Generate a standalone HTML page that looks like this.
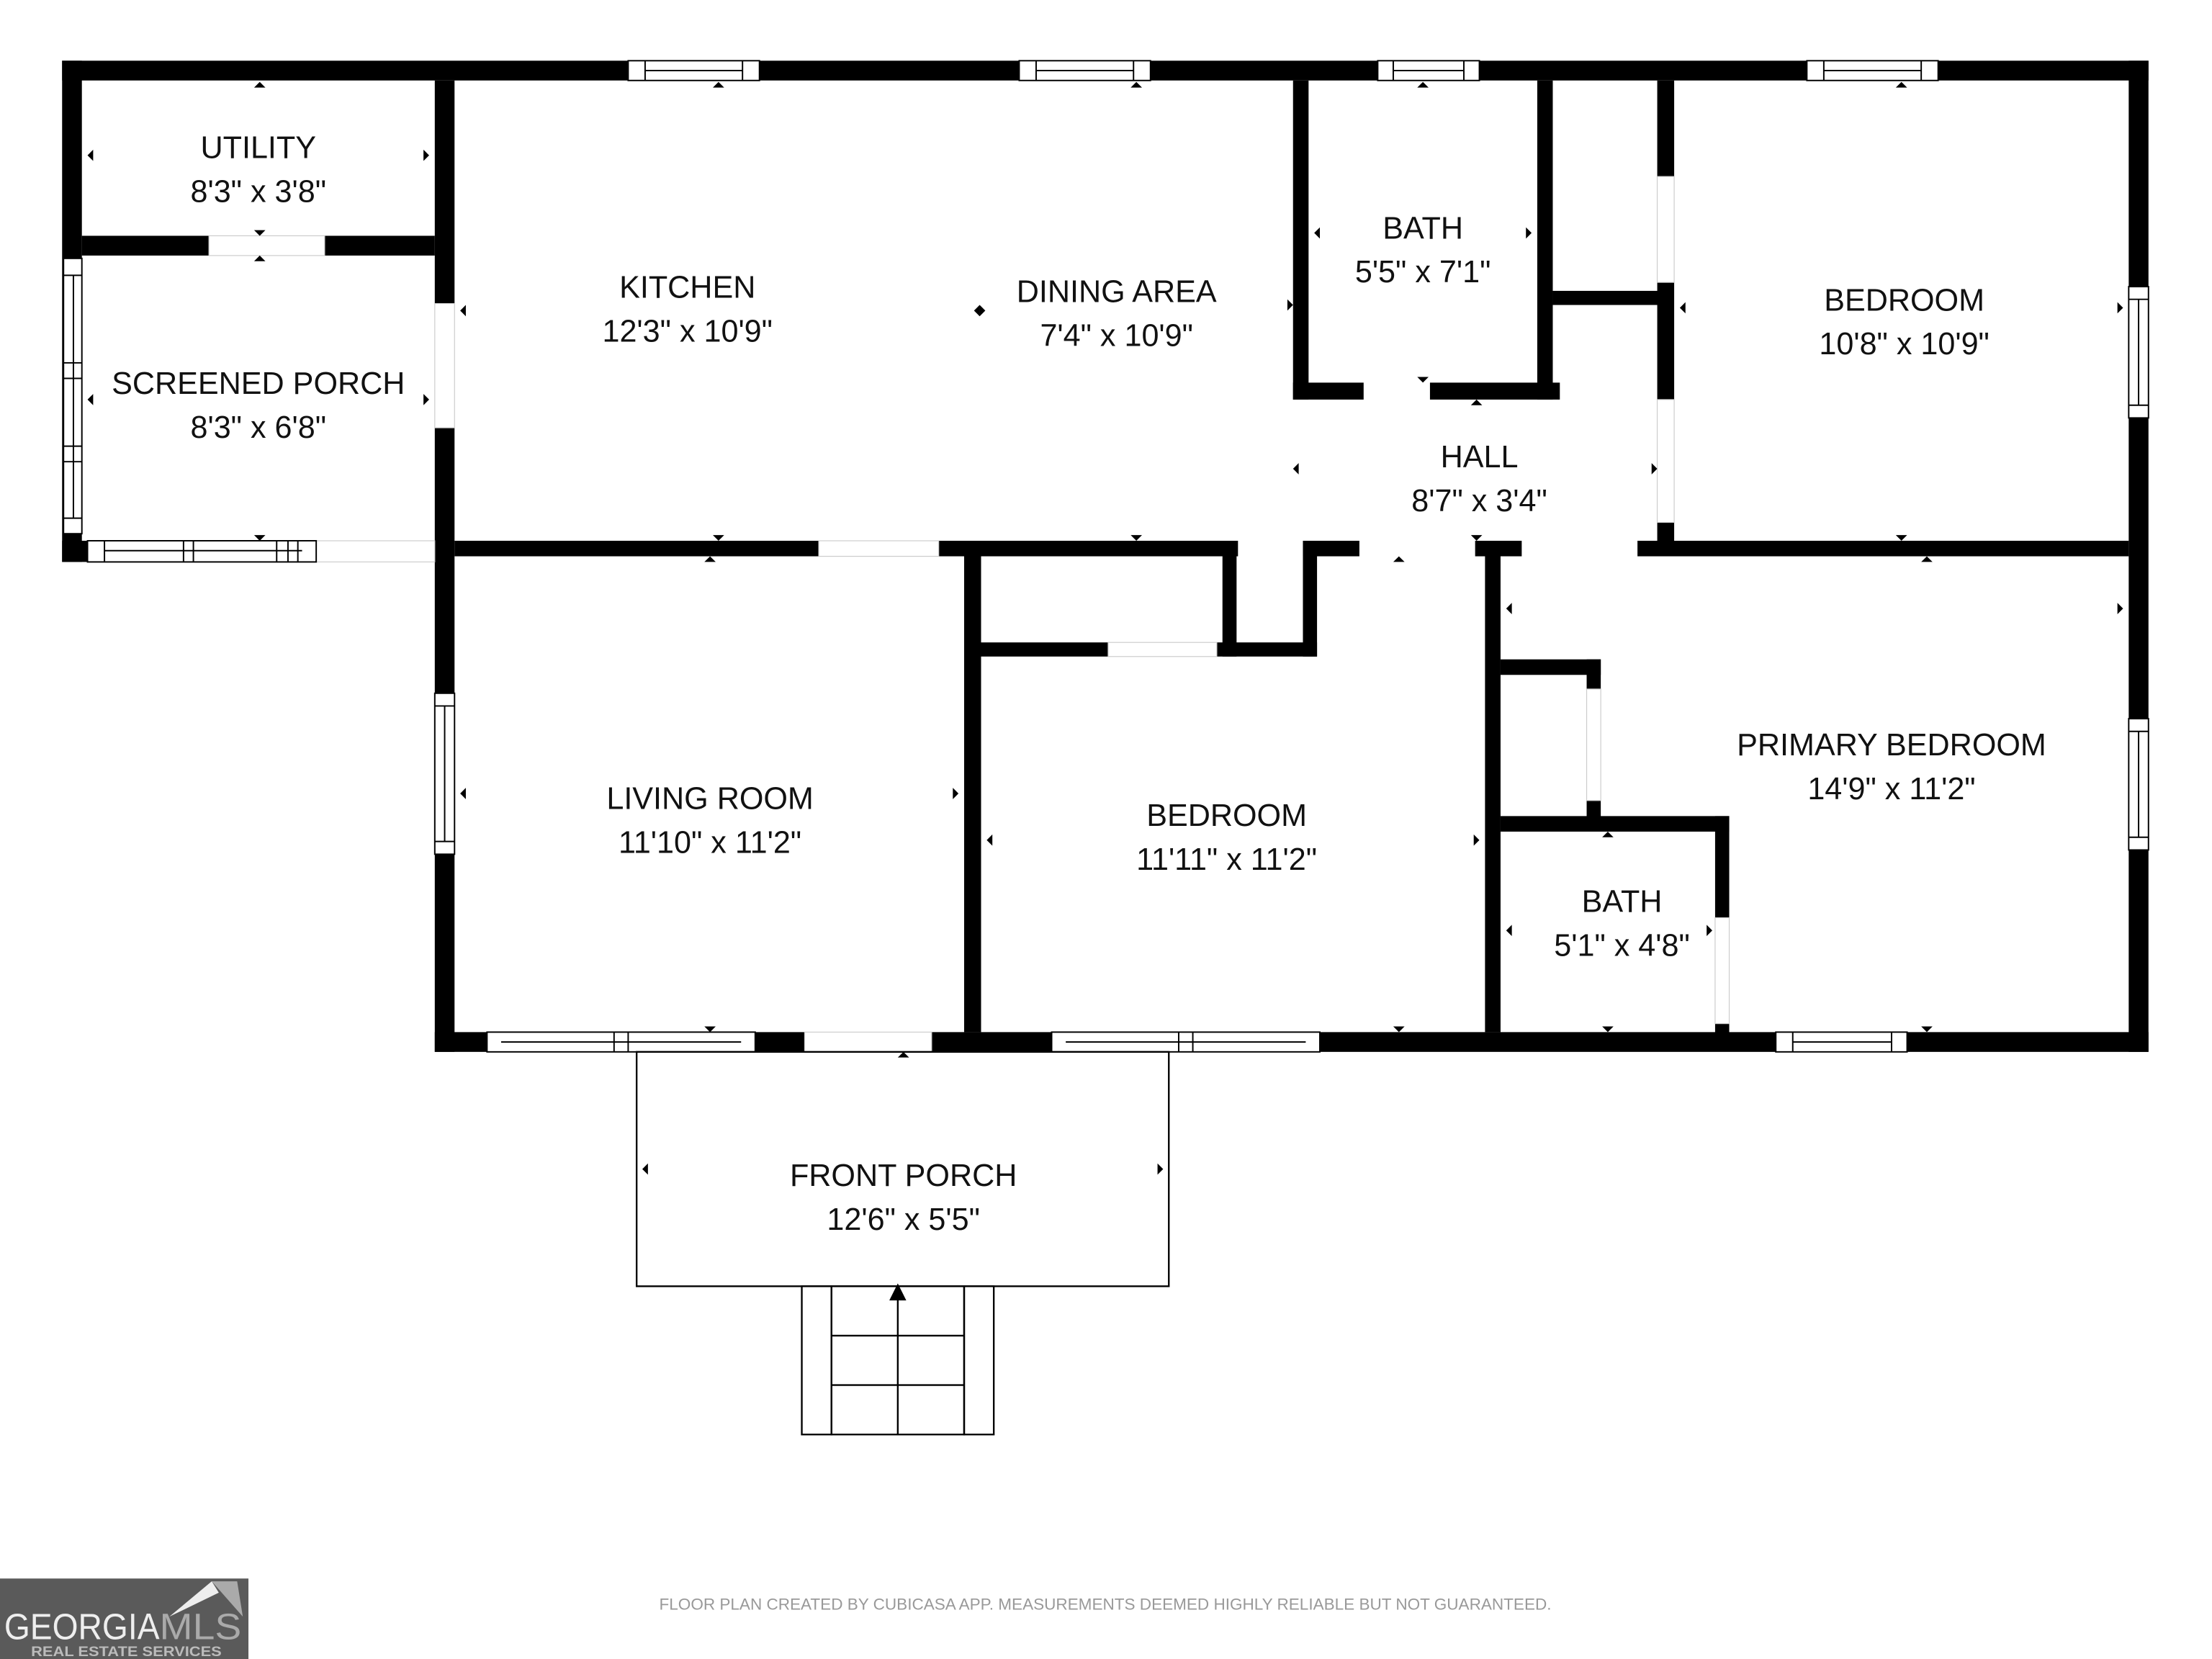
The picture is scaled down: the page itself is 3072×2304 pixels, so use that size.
<!DOCTYPE html>
<html><head><meta charset="utf-8"><style>html,body{margin:0;padding:0;background:#fff}svg{display:block}</style></head><body>
<svg width="3072" height="2304" viewBox="0 0 1567 1175" preserveAspectRatio="none" xmlns="http://www.w3.org/2000/svg" font-family="Liberation Sans, sans-serif">
<rect width="1567" height="1175" fill="#fff"/>
<g fill="#000">
<!-- outer walls -->
<rect x="44" y="43" width="1478" height="14"/>
<rect x="44" y="43" width="14" height="355"/>
<rect x="1508" y="43" width="14" height="702"/>
<rect x="308" y="731" width="1214" height="14"/>
<rect x="308" y="57" width="14" height="688"/>
<rect x="44" y="383" width="180" height="15"/>
<!-- utility divider -->
<rect x="58" y="167" width="90" height="14"/>
<rect x="230" y="167" width="78" height="14"/>
<!-- kitchen bottom wall -->
<rect x="322" y="383" width="258" height="11"/>
<rect x="665" y="383" width="212" height="11"/>
<rect x="923" y="383" width="40" height="11"/>
<rect x="1045" y="383" width="33" height="11"/>
<rect x="1160" y="383" width="348" height="11"/>
<!-- bath -->
<rect x="916" y="57" width="11" height="226"/>
<rect x="916" y="271" width="50" height="12"/>
<rect x="1013" y="271" width="92" height="12"/>
<rect x="1089" y="57" width="11" height="226"/>
<rect x="1100" y="206" width="80" height="10"/>
<rect x="1174" y="57" width="12" height="68"/>
<rect x="1174" y="200" width="12" height="83"/>
<rect x="1174" y="370" width="12" height="14"/>
<!-- living/bedroom -->
<rect x="683" y="393" width="12" height="338"/>
<rect x="695" y="455" width="90" height="10"/>
<rect x="862" y="455" width="71" height="10"/>
<rect x="866" y="393" width="10" height="72"/>
<rect x="923" y="383" width="10" height="82"/>
<rect x="1052" y="393" width="11" height="338"/>
<rect x="1063" y="467" width="71" height="11"/>
<rect x="1124" y="467" width="10" height="21"/>
<rect x="1124" y="567" width="10" height="13"/>
<rect x="1063" y="578" width="162" height="11"/>
<rect x="1215" y="578" width="10" height="72"/>
<rect x="1215" y="725" width="10" height="8"/>
</g>
<!-- doors/openings thin lines -->
<g fill="#fff" stroke="#ccc" stroke-width="0.6">
<rect x="148" y="167" width="82" height="14"/>
<rect x="308" y="215" width="14" height="88"/>
<rect x="580" y="383" width="85" height="11"/>
<rect x="1174" y="125" width="12" height="75"/>
<rect x="1174" y="283" width="12" height="87"/>
<rect x="1124" y="488" width="10" height="79"/>
<rect x="1215" y="650" width="10" height="75"/>
<rect x="570" y="731" width="90" height="14"/>
<rect x="785" y="455" width="77" height="10"/>
<rect x="224" y="383" width="84" height="15"/>
</g>
<!-- windows -->
<g fill="#fff" stroke="#000" stroke-width="1">
<rect x="445" y="43" width="93" height="14"/><line x1="457" y1="50" x2="526" y2="50"/><line x1="457" y1="43" x2="457" y2="57"/><line x1="526" y1="43" x2="526" y2="57"/>
<rect x="722" y="43" width="93" height="14"/><line x1="734" y1="50" x2="803" y2="50"/><line x1="734" y1="43" x2="734" y2="57"/><line x1="803" y1="43" x2="803" y2="57"/>
<rect x="976" y="43" width="72" height="14"/><line x1="987" y1="50" x2="1037" y2="50"/><line x1="987" y1="43" x2="987" y2="57"/><line x1="1037" y1="43" x2="1037" y2="57"/>
<rect x="1280" y="43" width="93" height="14"/><line x1="1292" y1="50" x2="1361" y2="50"/><line x1="1292" y1="43" x2="1292" y2="57"/><line x1="1361" y1="43" x2="1361" y2="57"/>
<rect x="1508" y="203" width="14" height="93"/><line x1="1515" y1="212" x2="1515" y2="287"/><line x1="1508" y1="212" x2="1522" y2="212"/><line x1="1508" y1="287" x2="1522" y2="287"/>
<rect x="1508" y="509" width="14" height="93"/><line x1="1515" y1="518" x2="1515" y2="593"/><line x1="1508" y1="518" x2="1522" y2="518"/><line x1="1508" y1="593" x2="1522" y2="593"/>
<rect x="308" y="491" width="14" height="114"/><line x1="315" y1="500" x2="315" y2="596"/><line x1="308" y1="500" x2="322" y2="500"/><line x1="308" y1="596" x2="322" y2="596"/>
<rect x="345" y="731" width="190" height="14"/><line x1="355" y1="738" x2="525" y2="738"/><line x1="435" y1="731" x2="435" y2="745"/><line x1="445" y1="731" x2="445" y2="745"/>
<rect x="745" y="731" width="190" height="14"/><line x1="755" y1="738" x2="925" y2="738"/><line x1="835" y1="731" x2="835" y2="745"/><line x1="845" y1="731" x2="845" y2="745"/>
<rect x="1258" y="731" width="93" height="14"/><line x1="1270" y1="738" x2="1340" y2="738"/><line x1="1270" y1="731" x2="1270" y2="745"/><line x1="1340" y1="731" x2="1340" y2="745"/>
<rect x="45" y="183" width="13" height="195"/><line x1="52" y1="195" x2="52" y2="367"/><line x1="45" y1="195" x2="58" y2="195"/><line x1="45" y1="257" x2="58" y2="257"/><line x1="45" y1="268" x2="58" y2="268"/><line x1="45" y1="316" x2="58" y2="316"/><line x1="45" y1="327" x2="58" y2="327"/><line x1="45" y1="367" x2="58" y2="367"/>
<rect x="62" y="383" width="162" height="15"/><line x1="74" y1="390" x2="214" y2="390"/><line x1="74" y1="383" x2="74" y2="398"/><line x1="130" y1="383" x2="130" y2="398"/><line x1="137" y1="383" x2="137" y2="398"/><line x1="196" y1="383" x2="196" y2="398"/><line x1="204" y1="383" x2="204" y2="398"/><line x1="211" y1="383" x2="211" y2="398"/>
</g>
<!-- front porch -->
<g fill="none" stroke="#000" stroke-width="1.2">
<rect x="451" y="745" width="377" height="166"/>
<rect x="568" y="911" width="21" height="105"/>
<rect x="683" y="911" width="21" height="105"/>
<rect x="589" y="911" width="94" height="105"/>
<line x1="589" y1="946" x2="683" y2="946"/>
<line x1="589" y1="981" x2="683" y2="981"/>
<line x1="636" y1="918" x2="636" y2="1016"/>
</g>
<polygon points="636,909 630,921 642,921" fill="#000"/>
<!-- small arrow markers -->
<g fill="#000">
<polygon points="180,62 184,58 188,62"/><polygon points="180,163 184,167 188,163"/>
<polygon points="180,185 184,181 188,185"/><polygon points="180,379 184,383 188,379"/>
<polygon points="62,110 66,106 66,114"/><polygon points="304,110 300,106 300,114"/>
<polygon points="62,283 66,279 66,287"/><polygon points="304,283 300,279 300,287"/>
<polygon points="326,220 330,216 330,224"/>
<polygon points="505,62 509,58 513,62"/><polygon points="505,379 509,383 513,379"/>
<polygon points="801,62 805,58 809,62"/><polygon points="801,379 805,383 809,379"/>
<polygon points="690,220 694,216 694,224"/><polygon points="698,220 694,216 694,224"/>
<polygon points="912,220 916,216 912,212" transform="translate(0,0)"/>
<polygon points="1004,62 1008,58 1012,62"/><polygon points="1004,267 1008,271 1012,267"/>
<polygon points="931,165 935,161 935,169"/><polygon points="1085,165 1081,161 1081,169"/>
<polygon points="1042,287 1046,283 1050,287"/><polygon points="1042,379 1046,383 1050,379"/>
<polygon points="916,332 920,328 920,336"/><polygon points="1174,332 1170,328 1170,336"/>
<polygon points="1190,218 1194,214 1194,222"/><polygon points="1504,218 1500,214 1500,222"/>
<polygon points="1343,62 1347,58 1351,62"/><polygon points="1343,379 1347,383 1351,379"/>
<polygon points="499,398 503,394 507,398"/><polygon points="499,727 503,731 507,727"/>
<polygon points="326,562 330,558 330,566"/><polygon points="679,562 675,558 675,566"/>
<polygon points="699,595 703,591 703,599"/><polygon points="1048,595 1044,591 1044,599"/>
<polygon points="987,398 991,394 995,398"/><polygon points="987,727 991,731 995,727"/>
<polygon points="1361,398 1365,394 1369,398"/><polygon points="1361,727 1365,731 1369,727"/>
<polygon points="1067,431 1071,427 1071,435"/><polygon points="1504,431 1500,427 1500,435"/>
<polygon points="1135,593 1139,589 1143,593"/><polygon points="1135,727 1139,731 1143,727"/>
<polygon points="1067,659 1071,655 1071,663"/><polygon points="1213,659 1209,655 1209,663"/>
<polygon points="636,749 640,745 644,749"/>
<polygon points="455,828 459,824 459,832"/><polygon points="824,828 820,824 820,832"/>
</g>
<!-- labels -->
<g font-size="22" text-anchor="middle" fill="#111">
<text x="183" y="112">UTILITY</text><text x="183" y="143">8'3" x 3'8"</text>
<text x="183" y="279">SCREENED PORCH</text><text x="183" y="310">8'3" x 6'8"</text>
<text x="487" y="211">KITCHEN</text><text x="487" y="242">12'3" x 10'9"</text>
<text x="791" y="214">DINING AREA</text><text x="791" y="245">7'4" x 10'9"</text>
<text x="1008" y="169">BATH</text><text x="1008" y="200">5'5" x 7'1"</text>
<text x="1349" y="220">BEDROOM</text><text x="1349" y="251">10'8" x 10'9"</text>
<text x="1048" y="331">HALL</text><text x="1048" y="362">8'7" x 3'4"</text>
<text x="503" y="573">LIVING ROOM</text><text x="503" y="604">11'10" x 11'2"</text>
<text x="869" y="585">BEDROOM</text><text x="869" y="616">11'11" x 11'2"</text>
<text x="1340" y="535">PRIMARY BEDROOM</text><text x="1340" y="566">14'9" x 11'2"</text>
<text x="1149" y="646">BATH</text><text x="1149" y="677">5'1" x 4'8"</text>
<text x="640" y="840">FRONT PORCH</text><text x="640" y="871">12'6" x 5'5"</text>
</g>
<text x="783" y="1140" font-size="11.5" text-anchor="middle" fill="#999">FLOOR PLAN CREATED BY CUBICASA APP. MEASUREMENTS DEEMED HIGHLY RELIABLE BUT NOT GUARANTEED.</text>
<!-- logo -->
<rect x="0" y="1118" width="176" height="57" fill="#5a5a5a"/>
<polygon points="120,1145 150,1120 155,1128" fill="#eee"/>
<polygon points="150,1120 168,1120 172,1145" fill="#aaa"/>
<text x="3" y="1161" font-size="26" fill="#eee" textLength="110" lengthAdjust="spacingAndGlyphs">GEORGIA</text>
<text x="113" y="1161" font-size="26" fill="#aaa" textLength="58" lengthAdjust="spacingAndGlyphs">MLS</text>
<text x="22" y="1173" font-size="10" fill="#bbb" font-weight="bold" textLength="135" lengthAdjust="spacingAndGlyphs">REAL ESTATE SERVICES</text>
</svg>
</body></html>
